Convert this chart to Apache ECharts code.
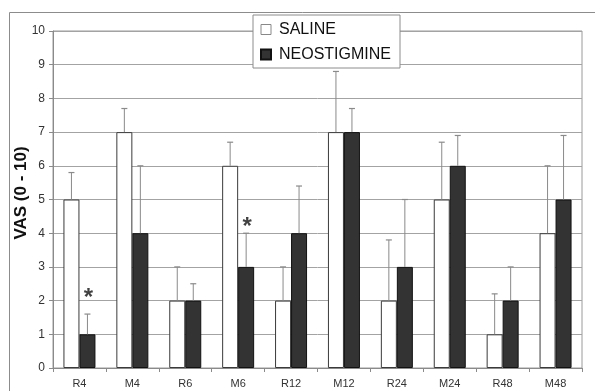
<!DOCTYPE html>
<html>
<head>
<meta charset="utf-8">
<script src="https://cdn.jsdelivr.net/npm/echarts@6/dist/echarts.min.js"></script>
<style>html,body{margin:0;padding:0;background:#fff;}#c{width:595px;height:391px;}</style>
</head>
<body>
<div id="c"></div>
<script>
var categories = ['R4','M4','R6','M6','R12','M12','R24','M24','R48','M48'];
var salineMean = [5, 7, 2, 6, 2, 7, 2, 5, 1, 4];
var salineUpper = [5.8, 7.7, 3, 6.7, 3, 8.8, 3.8, 6.7, 2.2, 6];
var neoMean = [1, 4, 2, 3, 4, 7, 3, 6, 2, 5];
var neoUpper = [1.6, 6, 2.5, 4, 5.4, 7.7, 5, 6.9, 3, 6.9];
var starCats = ['R4', 'M6'];
var starValues = [2.25, 4.35];
var yTicks = [0,1,2,3,4,5,6,7,8,9,10];
var yTitle = 'VAS (0 - 10)';

var BAR_W = 16;
var FONT = 'Liberation Sans, Arial, sans-serif';
function errData(mean, upper) {
  return categories.map(function (c, i) { return [i, mean[i], upper[i]]; });
}
function errRender(offset) {
  return function (params, api) {
    var i = api.value(0);
    var p0 = api.coord([i, api.value(1)]);
    var p1 = api.coord([i, api.value(2)]);
    var x = p0[0] + offset;
    var cw = 3;
    return {
      type: 'group',
      children: [
        {type: 'line', shape: {x1: x, y1: p0[1], x2: x, y2: p1[1]}, style: {stroke: '#8a8a8a', lineWidth: 1}},
        {type: 'line', shape: {x1: x - cw, y1: p1[1], x2: x + cw, y2: p1[1]}, style: {stroke: '#8a8a8a', lineWidth: 1.2}}
      ]
    };
  };
}

var chart = echarts.init(document.getElementById('c'), null, {renderer: 'canvas'});
chart.setOption({
  animation: false,
  backgroundColor: '#fff',
  graphic: [{
    type: 'rect', z: -10, silent: true,
    shape: {x: 9.5, y: 12.5, width: 620, height: 420},
    style: {fill: 'none', stroke: '#8c8c8c', lineWidth: 1}
  }, {
    type: 'text', x: 21, y: 193, rotation: Math.PI / 2, silent: true,
    style: {text: yTitle, align: 'center', verticalAlign: 'middle', font: 'bold 17px ' + FONT, fill: '#111'}
  }],
  grid: {left: 53, right: 13, top: 31, bottom: 23, show: true, borderColor: '#9a9a9a', borderWidth: 1},
  legend: {
    orient: 'vertical', left: 253, top: 15,
    padding: [6, 9, 5, 7], itemGap: 8,
    itemWidth: 10, itemHeight: 10,
    backgroundColor: '#fff', borderColor: '#8c8c8c', borderWidth: 1, borderRadius: 0,
    textStyle: {fontFamily: FONT, fontSize: 16, color: '#111', lineHeight: 17, padding: [0, 0, 0, 3]},
    data: [
      {name: 'SALINE', icon: 'rect', itemStyle: {color: '#fff', borderColor: '#888', borderWidth: 1}},
      {name: 'NEOSTIGMINE', icon: 'rect'}
    ]
  },
  xAxis: {
    type: 'category', data: categories,
    axisLine: {lineStyle: {color: '#8a8a8a'}},
    axisTick: {show: true, length: 4, lineStyle: {color: '#8a8a8a'}},
    axisLabel: {fontFamily: FONT, fontSize: 11, color: '#333', margin: 10}
  },
  yAxis: {
    type: 'value', min: yTicks[0], max: yTicks[yTicks.length - 1], interval: 1,
    axisLine: {show: true, lineStyle: {color: '#8a8a8a'}},
    axisTick: {show: true, length: 4, lineStyle: {color: '#8a8a8a'}},
    axisLabel: {fontFamily: FONT, fontSize: 12, color: '#333', margin: 8},
    splitLine: {lineStyle: {color: '#a3a3a3', width: 1}}
  },
  series: [
    {
      name: 'SALINE', type: 'bar', data: salineMean, barWidth: BAR_W, barGap: '0%',
      itemStyle: {color: '#ffffff', borderColor: '#3a3a3a', borderWidth: 1}
    },
    {
      name: 'NEOSTIGMINE', type: 'bar', data: neoMean, barWidth: BAR_W, barGap: '0%',
      itemStyle: {color: '#333333', borderColor: '#111111', borderWidth: 1}
    },
    {
      type: 'custom', renderItem: errRender(-BAR_W / 2), data: errData(salineMean, salineUpper), z: 5, silent: true
    },
    {
      type: 'custom', renderItem: errRender(BAR_W / 2), data: errData(neoMean, neoUpper), z: 5, silent: true
    },
    {
      type: 'scatter', symbolSize: 1, itemStyle: {color: 'rgba(0,0,0,0)'}, silent: true,
      data: starCats.map(function (c, i) { return [c, starValues[i]]; }),
      label: {
        show: true, formatter: '*', position: 'inside', offset: [BAR_W / 2 + 1, 6],
        fontFamily: FONT, fontSize: 24, fontWeight: 'bold', color: '#111'
      }
    }
  ]
});
</script>
</body>
</html>
